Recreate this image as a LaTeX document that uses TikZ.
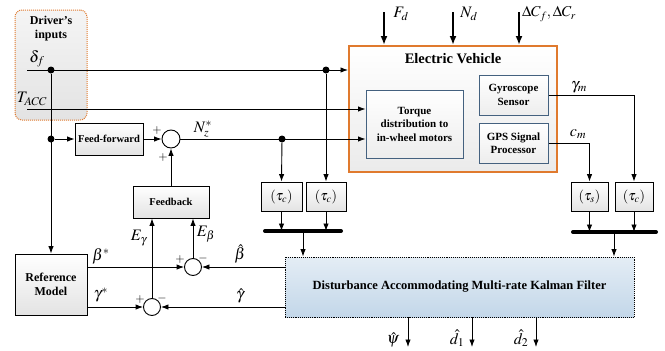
\documentclass[tikz,border=0pt]{standalone}
\usepackage{mathptmx}
\usepackage{fontspec}
\setmainfont{Liberation Serif}
\usetikzlibrary{arrows,arrows.meta,positioning,calc}

\definecolor{evorange}{HTML}{E07A2E}
\definecolor{boxblue}{HTML}{44617F}
\definecolor{kfblue}{HTML}{C3D7E9}

\begin{document}
\begin{tikzpicture}[x=1pt,y=-1pt,line width=0.9pt,
    >={Latex[length=7.5pt,width=5.5pt]},
    blk/.style={draw, line width=0.9pt, top color=white, bottom color=gray!22,
        font=\fontsize{10.5}{13}\selectfont\bfseries, align=center, inner sep=0pt},
    subblk/.style={draw=boxblue, line width=1pt, top color=white, bottom color=gray!14,
        font=\fontsize{11}{13.5}\selectfont\bfseries, align=center, inner sep=0pt},
    taublk/.style={blk, minimum height=29, font=\fontsize{14}{15}\selectfont},
    sumnode/.style={draw, circle, fill=white, inner sep=0pt},
    dot/.style={circle, fill, inner sep=0pt, minimum size=7pt},
    sig/.style={font=\fontsize{16}{18}\selectfont, inner sep=1pt},
    sgn/.style={font=\fontsize{12}{12}\selectfont, inner sep=0pt},
    bus/.style={line width=4pt, line cap=round},
    thk/.style={->, line width=2pt, >={Latex[length=9pt,width=7pt]}}]

    \useasboundingbox (0,0) rectangle (665,351);

    % driver's inputs
    \node[draw=evorange, densely dotted, line width=1pt, rounded corners=7pt,
        top color=gray!8, bottom color=gray!22, minimum width=72, minimum height=110]
        (drv) at (51,65) {};
    \node[font=\fontsize{12}{14}\selectfont\bfseries, align=center] (drvtxt) at (51,29) {Driver’s\\inputs};

    % electric vehicle
    \node[draw=evorange, line width=2pt, top color=white, bottom color=gray!16,
        minimum width=208, minimum height=126] (ev) at (453,109) {};
    \node[font=\fontsize{14.5}{16}\selectfont\bfseries] (evtitle) at (453,59) {Electric Vehicle};
    \node[subblk, minimum width=97, minimum height=68] (tq) at (414.5,124) {Torque\\distribution to\\in-wheel motors};
    \node[subblk, minimum width=69, minimum height=40] (gyro) at (513.5,95) {Gyroscope\\Sensor};
    \node[subblk, minimum width=69, minimum height=40] (gps) at (513.5,143) {GPS Signal\\Processor};

    % controller
    \node[blk, minimum width=68, minimum height=32] (ff) at (109,139) {Feed-forward};
    \node[sumnode, minimum size=18] (s1) at (171,139) {};
    \node[blk, minimum width=76, minimum height=32] (fb) at (171,202) {Feedback};
    \node[blk, minimum width=72, minimum height=61, font=\fontsize{12}{14.5}\selectfont\bfseries] (rm) at (51,284.5) {Reference\\Model};
    \node[sumnode, minimum size=17] (s2) at (193,267) {};
    \node[sumnode, minimum size=17] (s3) at (152,307) {};

    % delays and filter
    \node[taublk, minimum width=41] (t1) at (281.5,196.5) {$(\tau_c)$};
    \node[taublk, minimum width=40] (t2) at (326,196.5) {$(\tau_c)$};
    \node[taublk, minimum width=37] (t3) at (589.5,196.5) {$(\tau_s)$};
    \node[taublk, minimum width=38] (t4) at (634,196.5) {$(\tau_c)$};
    \node[draw, densely dotted, line width=0.9pt, top color=kfblue!45, bottom color=kfblue,
        minimum width=349, minimum height=60, font=\fontsize{12.5}{14}\selectfont\bfseries]
        (dk) at (459.5,287) {Disturbance Accommodating Multi-rate Kalman Filter};

    \coordinate (df) at (27,70);
    \coordinate (ta) at (27,109);
    \node[dot] (d1) at (51,70) {};
    \node[dot] (d2) at (51,139) {};
    \node[dot] (d3) at (282,139) {};
    \node[dot] (d4) at (326,70) {};
    \coordinate (b1l) at (265,231);
    \coordinate (b1r) at (341,231);
    \coordinate (b1m) at (303,231);
    \coordinate (b2l) at (573,232);
    \coordinate (b2r) at (656,232);
    \coordinate (b2m) at (614,232);

    % inputs
    \draw[->] (df) -- (df -| ev.west);
    \draw[->] (ta) -- (ta -| tq.west);
    \draw[->] (d1) -- (rm.north);
    \draw[->] (d2) -- (ff.west);
    \draw[->] (ff.east) -- (s1.west);
    \draw[->] (s1.east) -- (s1.east -| tq.west);
    \draw[->] (d3) -- (t1.north);
    \draw[->] (d4) -- (t2.north);

    % feedback loop
    \draw[->] (fb.north) -- (s1.south);
    \draw[->] (s2.north) -- (s2.north |- fb.south);
    \draw[->] (s3.north) -- (s3.north |- fb.south);
    \draw[->] (rm.east |- s2) -- (s2.west);
    \draw[->] (rm.east |- s3) -- (s3.west);
    \draw[->] (dk.west |- s2) -- (s2.east);
    \draw[->] (dk.west |- s3) -- (s3.east);

    % sensors
    \draw[->] (gyro.east) -| (t4.north);
    \draw[->] (gps.east) -| (t3.north);

    % buses
    \draw[bus] (b1l) -- (b1r);
    \draw[bus] (b2l) -- (b2r);
    \draw[->] (t1.south) -- (t1.south |- b1l);
    \draw[->] (t2.south) -- (t2.south |- b1l);
    \draw[->] (t3.south) -- (t3.south |- b2l);
    \draw[->] (t4.south) -- (t4.south |- b2l);
    \draw[->] (b1m) -- (b1m |- dk.north);
    \draw[->] (b2m) -- (b2m |- dk.north);

    % disturbances
    \coordinate (fdtop) at (384,12);
    \coordinate (ndtop) at (453,12);
    \coordinate (dctop) at (519,12);
    \draw[thk] (fdtop) -- (fdtop |- ev.north);
    \draw[thk] (ndtop) -- (ndtop |- ev.north);
    \draw[thk] (dctop) -- (dctop |- ev.north);

    % outputs
    \coordinate (o1) at (408,347);
    \coordinate (o2) at (472,347);
    \coordinate (o3) at (536,347);
    \draw[->] (o1 |- dk.south) -- (o1);
    \draw[->] (o2 |- dk.south) -- (o2);
    \draw[->] (o3 |- dk.south) -- (o3);

    % signal labels
    \node[sig] (ldf) at (37,59) {$\delta_f$};
    \node[sig] (lta) at (32,99) {$T_{ACC}$};
    \node[sig] (lnz) at (203,129) {$N_z^*$};
    \node[sig] (lbs) at (101,256) {$\beta^*$};
    \node[sig] (lgs) at (101,295) {$\gamma^*$};
    \node[sig] (lbh) at (240,254) {$\hat{\beta}$};
    \node[sig] (lgh) at (240,296) {$\hat{\gamma}$};
    \node[sig] (leg) at (139,238) {$E_\gamma$};
    \node[sig] (leb) at (206,234) {$E_\beta$};
    \node[sig] (lgm) at (579,87) {$\gamma_m$};
    \node[sig] (lcm) at (578,134) {$c_m$};
    \node[sig] (lfd) at (401,14) {$F_d$};
    \node[sig] (lnd) at (469,14) {$N_d$};
    \node[sig, font=\fontsize{15}{17}\selectfont] (ldc) at (549,14) {$\Delta C_f,\Delta C_r$};
    \node[sig] (lps) at (393,340) {$\hat{\psi}$};
    \node[sig] (ld1) at (457,338) {$\hat{d}_1$};
    \node[sig] (ld2) at (521,338) {$\hat{d}_2$};

    % signs
    \node[sgn] at (157,131) {$+$};
    \node[sgn] at (163,158) {$+$};
    \node[sgn] at (180,259) {$+$};
    \node[sgn] at (203,258) {$-$};
    \node[sgn] at (140,299) {$+$};
    \node[sgn] at (162,298) {$-$};
\end{tikzpicture}
\end{document}
